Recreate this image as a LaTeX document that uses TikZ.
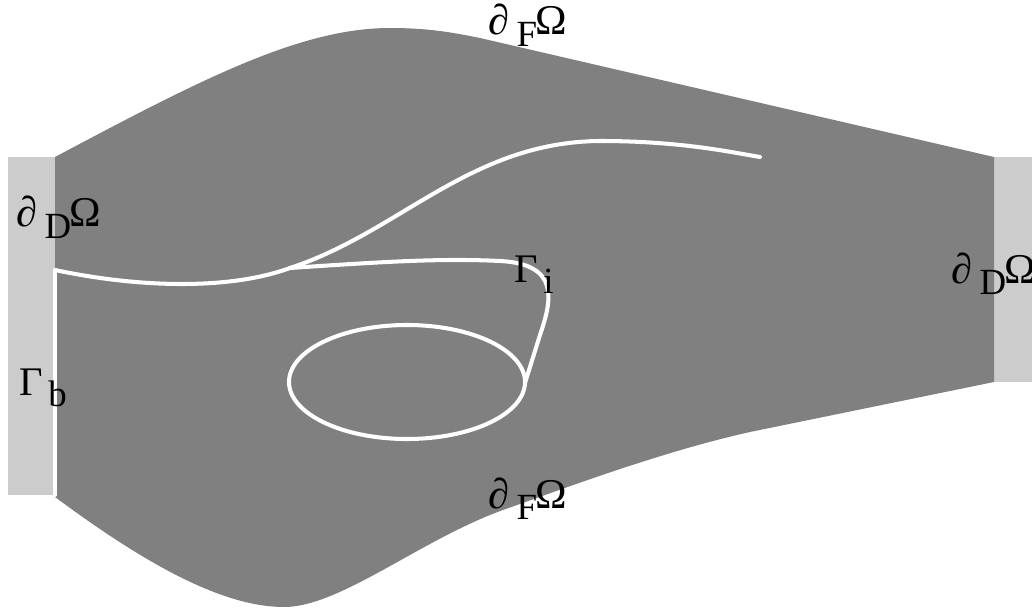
\documentclass[tikz,border=0pt]{standalone}
\usepackage{fontspec}
\setmainfont{Liberation Serif}
\usetikzlibrary{positioning}

% subscript in text, set lower like the plotted labels
\newcommand{\lowsub}[1]{\raisebox{-0.3em}{#1}}
\newcommand{\bigomega}{\scalebox{1.15}{Ω}}
\newcommand{\bdry}[1]{\scalebox{1.15}{∂}\hspace{0.2em}\lowsub{#1}\hspace{-0.05em}\bigomega}

\tikzset{
  omegafill/.style={fill=black!50, draw=none},
  dirichlet/.style={fill=black!20, draw=none},
  crack/.style={draw=white, line width=2.3pt, line cap=round, line join=round},
  bdlabel/.style={inner sep=0pt, anchor=base west, font=\fontsize{21}{25}\selectfont}
}

\begin{document}
\begin{tikzpicture}[x=0.02cm, y=-0.02cm]
  \useasboundingbox (0,0) rectangle (1032,608);

  % Dirichlet parts of the boundary
  \fill[dirichlet] (8,157) rectangle (55,495);
  \fill[dirichlet] (994,157) rectangle (1032,382);

  % the domain Omega
  \fill[omegafill] (55,157) .. controls (200,80) and (300,28) .. (390,28)
    .. controls (430,28) and (455,33) .. (480,38)
    -- (994,157) -- (994,382) -- (750,432)
    .. controls (660,452) and (560,490) .. (503,510)
    .. controls (420,540) and (340,607) .. (284,607)
    .. controls (220,607) and (140,560) .. (55,497) -- cycle;

  % Gamma_b along the left edge
  \coordinate (gbtop) at (55,270);
  \coordinate (gbbot) at (55,495);
  \draw[crack] (gbbot) -- (gbtop);

  % main crack with its branch
  \coordinate (kink) at (290,268);
  \coordinate (tip) at (760,157);
  \coordinate (join) at (525,383);
  \draw[crack] (gbtop) .. controls (140,288) and (230,290) .. (kink)
    .. controls (400,232) and (470,142) .. (600,141)
    .. controls (680,141) and (730,152) .. (tip);
  \draw[crack] (kink) .. controls (380,262) and (440,258) .. (500,261)
    .. controls (560,264) and (552,300) .. (540,335) -- (join);

  % inclusion
  \draw[crack] (407,382) ellipse [x radius=118, y radius=57];

  % labels (placed by their base line)
  \node[bdlabel] (dftop) at (488,35) {\bdry{F}};
  \node[bdlabel] (dfbot) at (488,508) {\bdry{F}};
  \node[bdlabel] (ddleft) at (16,227) {\bdry{D}};
  \node[bdlabel] (ddright) at (951,283) {\bdry{D}};
  \node[bdlabel] (gi) at (514,282) {\scalebox{1.1}{Γ}\hspace{0.15em}\lowsub{i}};
  \node[bdlabel] (gb) at (19,395) {\scalebox{1.1}{Γ}\hspace{0.15em}\lowsub{b}};
\end{tikzpicture}
\end{document}
